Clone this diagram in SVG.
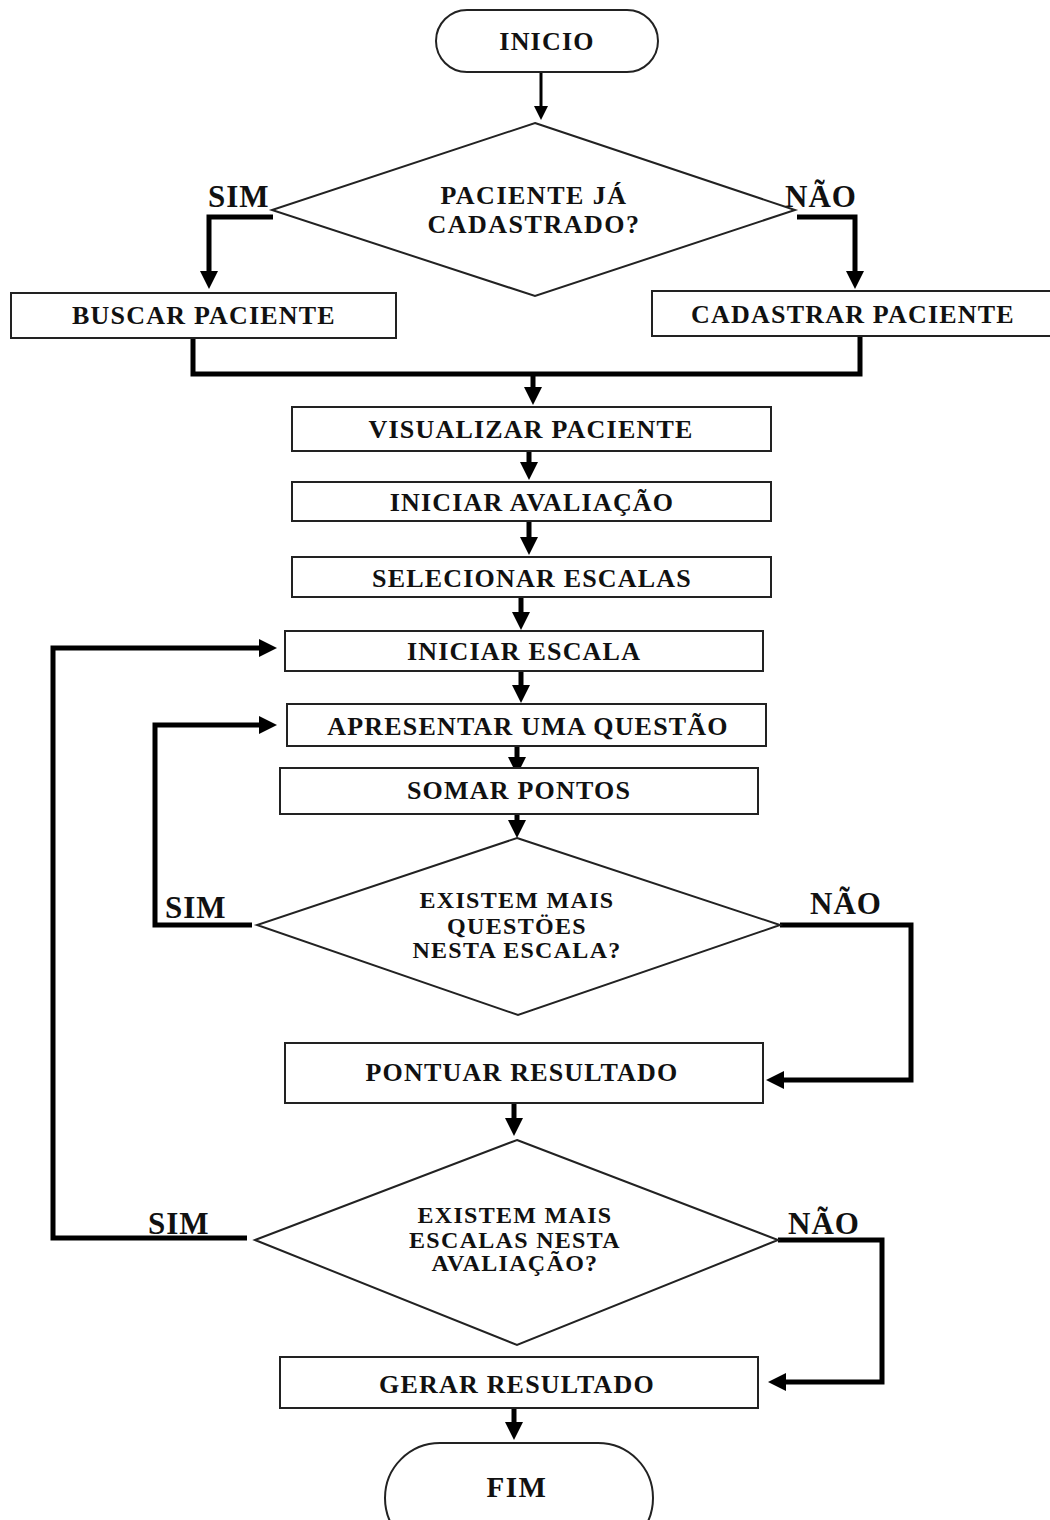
<svg xmlns="http://www.w3.org/2000/svg" width="1050" height="1520" viewBox="0 0 1050 1520">
<style>
  .shape { fill: #ffffff; stroke: #222222; stroke-width: 2; }
  .t { font-family: "Liberation Serif", "Times New Roman", serif; font-weight: bold; fill: #111111; text-anchor: middle; }
  .bx { font-size: 26px; letter-spacing: 1.2px; }
  .dm { font-size: 24px; letter-spacing: 1.3px; }
  .d1 { font-size: 26px; letter-spacing: 1.5px; }
  .lb { font-family: "Liberation Serif", "Times New Roman", serif; font-weight: bold; fill: #111111; font-size: 31px; letter-spacing: 1px; }
  .c { fill: none; stroke: #000000; stroke-width: 5; stroke-linejoin: miter; }
  .cs { fill: none; stroke: #000000; stroke-width: 3; }
</style>
<defs>
  <marker id="ah" viewBox="0 0 18 18" markerWidth="18" markerHeight="18" refX="3" refY="9" orient="auto" markerUnits="userSpaceOnUse">
    <path d="M0,0 L18,9 L0,18 z" fill="#000000"/>
  </marker>
  <marker id="ahs" viewBox="0 0 14 14" markerWidth="14" markerHeight="14" refX="2" refY="7" orient="auto" markerUnits="userSpaceOnUse">
    <path d="M0,0 L14,7 L0,14 z" fill="#000000"/>
  </marker>
</defs>
<rect width="1050" height="1520" fill="#ffffff"/>

<g id="connectors">
  <path class="cs" d="M541,73 V108" marker-end="url(#ahs)"/>
  <path class="c" d="M273,217 H209 V274" marker-end="url(#ah)"/>
  <path class="c" d="M797,217 H855 V274" marker-end="url(#ah)"/>
  <path class="c" d="M193,338 V374 H860 V336"/>
  <path class="c" d="M533,374 V390" marker-end="url(#ah)"/>
  <path class="c" d="M529,451 V465" marker-end="url(#ah)"/>
  <path class="c" d="M529,521 V540" marker-end="url(#ah)"/>
  <path class="c" d="M521,597 V615" marker-end="url(#ah)"/>
  <path class="c" d="M521,671 V688" marker-end="url(#ah)"/>
  <path class="c" d="M517,746 V760" marker-end="url(#ah)"/>
  <path class="c" d="M517,814 V823" marker-end="url(#ah)"/>
  <path class="c" d="M252,925 H155 V725 H262" marker-end="url(#ah)"/>
  <path class="c" d="M780,925 H911 V1080 H781" marker-end="url(#ah)"/>
  <path class="c" d="M514,1103 V1121" marker-end="url(#ah)"/>
  <path class="c" d="M247,1238 H53 V648 H262" marker-end="url(#ah)"/>
  <path class="c" d="M778,1240 H882 V1382 H783" marker-end="url(#ah)"/>
  <path class="c" d="M514,1408 V1425" marker-end="url(#ah)"/>
  <text class="lb" x="208" y="207">SIM</text>
  <text class="lb" x="785" y="207">NÃO</text>
  <text class="lb" x="165" y="918">SIM</text>
  <text class="lb" x="810" y="914">NÃO</text>
  <text class="lb" x="148" y="1234">SIM</text>
  <text class="lb" x="788" y="1234">NÃO</text>
</g>

<g id="inicio">
  <rect class="shape" x="436" y="10" width="222" height="62" rx="31" ry="31"/>
  <text class="t bx" x="547" y="50">INICIO</text>
</g>
<g id="paciente-cadastrado">
  <polygon class="shape" points="535,123 795,210 535,296 272,210"/>
  <text class="t d1" x="534" y="204">PACIENTE JÁ</text>
  <text class="t d1" x="534" y="233">CADASTRADO?</text>
</g>
<g id="buscar-paciente">
  <rect class="shape" x="11" y="293" width="385" height="45"/>
  <text class="t bx" x="204" y="324">BUSCAR PACIENTE</text>
</g>
<g id="cadastrar-paciente">
  <rect class="shape" x="652" y="291" width="400" height="45"/>
  <text class="t bx" x="853" y="323">CADASTRAR PACIENTE</text>
</g>
<g id="visualizar-paciente">
  <rect class="shape" x="292" y="407" width="479" height="44"/>
  <text class="t bx" x="531" y="438">VISUALIZAR PACIENTE</text>
</g>
<g id="iniciar-avaliacao">
  <rect class="shape" x="292" y="482" width="479" height="39"/>
  <text class="t bx" x="532" y="511">INICIAR AVALIAÇÃO</text>
</g>
<g id="selecionar-escalas">
  <rect class="shape" x="292" y="557" width="479" height="40"/>
  <text class="t bx" x="532" y="587">SELECIONAR ESCALAS</text>
</g>
<g id="iniciar-escala">
  <rect class="shape" x="285" y="631" width="478" height="40"/>
  <text class="t bx" x="524" y="660">INICIAR ESCALA</text>
</g>
<g id="apresentar-questao">
  <rect class="shape" x="287" y="704" width="479" height="42"/>
  <text class="t bx" x="528" y="735">APRESENTAR UMA QUESTÃO</text>
</g>
<g id="somar-pontos">
  <rect class="shape" x="280" y="768" width="478" height="46"/>
  <text class="t bx" x="519" y="799">SOMAR PONTOS</text>
</g>
<g id="mais-questoes">
  <polygon class="shape" points="517,838 780,925 518,1015 257,925"/>
  <text class="t dm" x="517" y="908">EXISTEM MAIS</text>
  <text class="t dm" x="517" y="934">QUESTÖES</text>
  <text class="t dm" x="517" y="958">NESTA ESCALA?</text>
</g>
<g id="pontuar-resultado">
  <rect class="shape" x="285" y="1043" width="478" height="60"/>
  <text class="t bx" x="522" y="1081">PONTUAR RESULTADO</text>
</g>
<g id="mais-escalas">
  <polygon class="shape" points="517,1140 778,1240 517,1345 255,1240"/>
  <text class="t dm" x="515" y="1223">EXISTEM MAIS</text>
  <text class="t dm" x="515" y="1248">ESCALAS NESTA</text>
  <text class="t dm" x="515" y="1271">AVALIAÇÃO?</text>
</g>
<g id="gerar-resultado">
  <rect class="shape" x="280" y="1357" width="478" height="51"/>
  <text class="t bx" x="517" y="1393">GERAR RESULTADO</text>
</g>
<g id="fim">
  <rect class="shape" x="385" y="1443" width="268" height="110" rx="55" ry="55"/>
  <text class="t" x="517" y="1497" style="font-size:29px;letter-spacing:1.5px">FIM</text>
</g>
</svg>
